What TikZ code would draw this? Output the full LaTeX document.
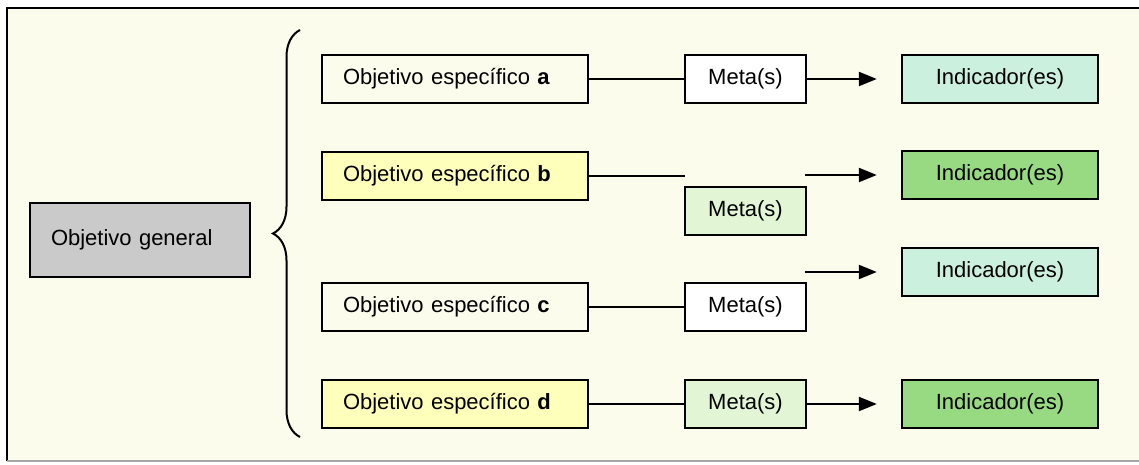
\documentclass[tikz,border=0pt]{standalone}
\usepackage{fontspec}
\setmainfont{Liberation Sans}
\usetikzlibrary{arrows.meta,positioning,decorations.pathreplacing}
\definecolor{bgcream}{RGB}{252,252,236}
\definecolor{gengray}{RGB}{202,202,202}
\definecolor{objyellow}{RGB}{255,255,188}
\definecolor{metagreen}{RGB}{226,245,212}
\definecolor{indaqua}{RGB}{204,240,222}
\definecolor{indgreen}{RGB}{152,218,130}

\begin{document}
\begin{tikzpicture}[
  x=0.5pt, y=-0.5pt,
  font=\fontsize{11}{13}\selectfont,
  box/.style={draw, line width=1.2pt, minimum height=24pt, inner ysep=0pt},
  objbox/.style={box, text width=112pt, inner xsep=10.5pt, align=left},
  metabox/.style={box, minimum width=60.5pt, inner xsep=0pt},
  indbox/.style={box, minimum width=98pt, inner xsep=0pt},
  link/.style={line width=1.1pt},
  arr/.style={-{Triangle[length=9pt, width=7pt]}, line width=1.1pt, shorten >=12pt}
]
\useasboundingbox (0,0) rectangle (1139,465);
% fondo y marco
\fill[white] (0,0) rectangle (1139,465);
\fill[bgcream] (7,8) rectangle (1139,461);
\draw[line width=1.2pt] (1139,8) -- (7,8) -- (7,461);
\draw[line width=1.2pt, gray!70] (7,461) -- (1139,461);

\node[box, fill=gengray, text width=89pt, inner xsep=10.5pt, minimum height=37pt, align=left] (gen) at (140,240) {Objetivo general};
\draw[line width=1pt, decorate, decoration={brace, amplitude=13.5pt}] (300,437) -- (300,30);

% objetivos especificos
\node[objbox] (oa) at (455,79) {Objetivo específico \textbf{a}};
\node[objbox, fill=objyellow] (ob) at (455,176) {Objetivo específico \textbf{b}};
\node[objbox] (oc) at (455,307) {Objetivo específico \textbf{c}};
\node[objbox, fill=objyellow] (od) at (455,404) {Objetivo específico \textbf{d}};

% metas
\node[metabox, fill=white] (ma) at (745.5,79) {Meta(s)};
\node[metabox, fill=metagreen] (mb) at (745.5,211) {Meta(s)};
\node[metabox, fill=white] (mc) at (745.5,307) {Meta(s)};
\node[metabox, fill=metagreen] (md) at (745.5,404) {Meta(s)};

% indicadores
\node[indbox, fill=indaqua] (ia) at (1000,79) {Indicador(es)};
\node[indbox, fill=indgreen] (ib) at (1000,175) {Indicador(es)};
\node[indbox, fill=indaqua] (ic) at (1000,272) {Indicador(es)};
\node[indbox, fill=indgreen] (id) at (1000,404) {Indicador(es)};

\coordinate (ob-end) at (685,176);
\coordinate (mb-out) at (805,175);
\coordinate (mc-out) at (805,272);

\draw[link] (oa) -- (ma);
\draw[link] (ob) -- (ob-end);
\draw[link] (oc) -- (mc);
\draw[link] (od) -- (md);

\draw[arr] (ma) -- (ia);
\draw[arr] (mb-out) -- (ib);
\draw[arr] (mc-out) -- (ic);
\draw[arr] (md) -- (id);
\end{tikzpicture}
\end{document}
